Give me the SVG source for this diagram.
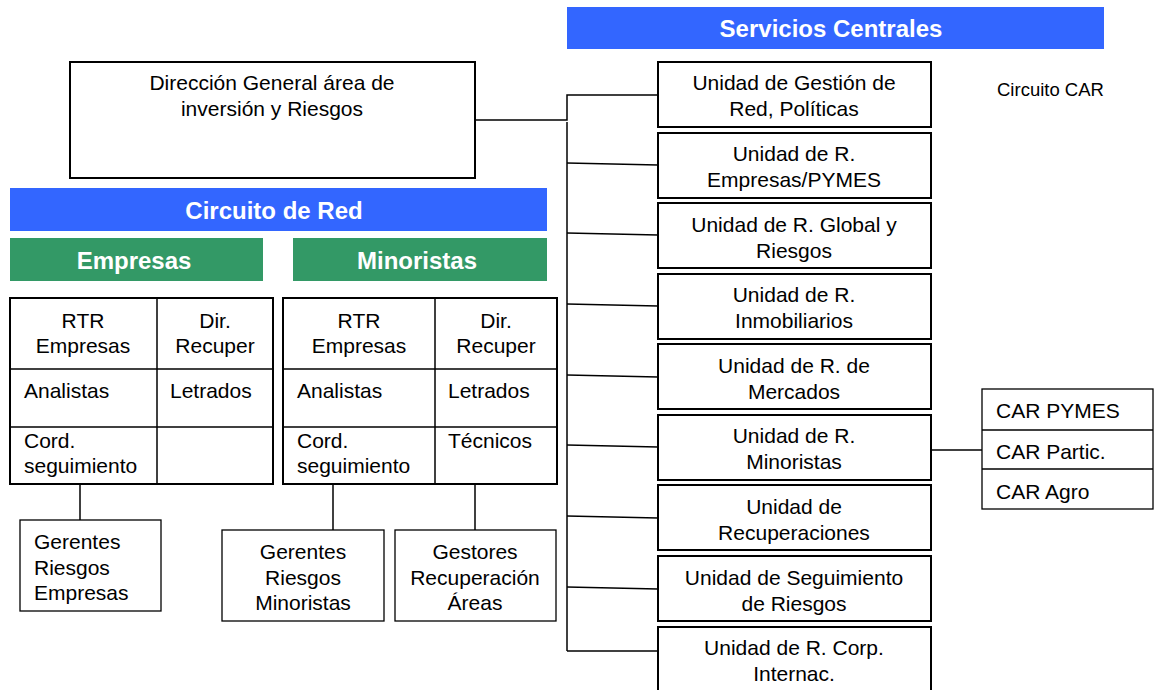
<svg xmlns="http://www.w3.org/2000/svg" width="1155" height="690" viewBox="0 0 1155 690">
<style>
text{font-family:"Liberation Sans",Arial,sans-serif;font-size:21px;fill:#000}
.c{text-anchor:middle}
.bar{font-weight:bold;font-size:24px;fill:#fff;text-anchor:middle}
.box{fill:#fff;stroke:#000;stroke-width:2}
.thin{fill:#fff;stroke:#000;stroke-width:1.3}
.ln{fill:none;stroke:#000;stroke-width:1.5}
.blue{fill:#3366FF}
.green{fill:#339966}
</style>
<rect width="1155" height="690" fill="#fff"/>
<g id="connectors">
<polyline class="ln" points="475,120 567,120 567,95 658,95"/>
<line class="ln" x1="567" y1="122" x2="567" y2="651"/>
<line class="ln" x1="567" y1="163" x2="658" y2="165"/>
<line class="ln" x1="567" y1="233" x2="658" y2="235"/>
<line class="ln" x1="567" y1="304" x2="658" y2="306"/>
<line class="ln" x1="567" y1="375" x2="658" y2="377"/>
<line class="ln" x1="567" y1="445" x2="658" y2="447"/>
<line class="ln" x1="567" y1="516" x2="658" y2="518"/>
<line class="ln" x1="567" y1="587" x2="658" y2="589"/>
<line class="ln" x1="567" y1="651" x2="658" y2="651"/>
<line class="ln" x1="931" y1="450" x2="982" y2="450"/>
<line class="ln" x1="80" y1="484" x2="80" y2="520"/>
<line class="ln" x1="333" y1="484" x2="333" y2="530"/>
<line class="ln" x1="475" y1="484" x2="475" y2="530"/>
</g>
<g id="servicios-centrales"><rect class="blue" x="567" y="7" width="537" height="42"/><text class="bar" x="831" y="37">Servicios Centrales</text></g>
<g id="circuito-car"><text x="997" y="96" style="font-size:18.5px">Circuito CAR</text></g>
<g id="direccion"><rect class="box" x="70" y="62" width="405" height="116"/><text class="c" x="272" y="90">Dirección General área de</text><text class="c" x="272" y="116">inversión y Riesgos</text></g>
<g id="circuito-red"><rect class="blue" x="10" y="188" width="537" height="43"/><text class="bar" x="274" y="219">Circuito de Red</text></g>
<g id="empresas"><rect class="green" x="10" y="238" width="253" height="43"/><text class="bar" x="134" y="269">Empresas</text></g>
<g id="minoristas"><rect class="green" x="293" y="238" width="254" height="43"/><text class="bar" x="417" y="269">Minoristas</text></g>
<g id="tabla-empresas">
<rect class="box" x="10" y="298" width="263" height="186"/>
<line class="ln" x1="157" y1="298" x2="157" y2="484"/>
<line class="ln" x1="10" y1="369" x2="273" y2="369"/>
<line class="ln" x1="10" y1="427" x2="273" y2="427"/>
<text class="c" x="83" y="328">RTR</text><text class="c" x="83" y="353">Empresas</text>
<text class="c" x="215" y="328">Dir.</text><text class="c" x="215" y="353">Recuper</text>
<text x="24" y="398">Analistas</text><text x="170" y="398">Letrados</text>
<text x="24" y="448">Cord.</text><text x="24" y="473">seguimiento</text>
</g>
<g id="tabla-minoristas">
<rect class="box" x="283" y="298" width="274" height="186"/>
<line class="ln" x1="435" y1="298" x2="435" y2="484"/>
<line class="ln" x1="283" y1="369" x2="557" y2="369"/>
<line class="ln" x1="283" y1="427" x2="557" y2="427"/>
<text class="c" x="359" y="328">RTR</text><text class="c" x="359" y="353">Empresas</text>
<text class="c" x="496" y="328">Dir.</text><text class="c" x="496" y="353">Recuper</text>
<text x="297" y="398">Analistas</text><text x="448" y="398">Letrados</text>
<text x="297" y="448">Cord.</text><text x="297" y="473">seguimiento</text>
<text x="448" y="448">Técnicos</text>
</g>
<g id="gerentes-empresas"><rect class="thin" x="20" y="520" width="141" height="91"/><text x="34" y="549">Gerentes</text><text x="34" y="575">Riesgos</text><text x="34" y="600">Empresas</text></g>
<g id="gerentes-minoristas"><rect class="thin" x="222" y="530" width="162" height="91"/><text class="c" x="303" y="559">Gerentes</text><text class="c" x="303" y="585">Riesgos</text><text class="c" x="303" y="610">Minoristas</text></g>
<g id="gestores"><rect class="thin" x="395" y="530" width="161" height="91"/><text class="c" x="475" y="559">Gestores</text><text class="c" x="475" y="585">Recuperación</text><text class="c" x="475" y="610">Áreas</text></g>
<g id="u1"><rect class="box" x="658" y="62" width="273" height="65"/><text class="c" x="794" y="90">Unidad de Gestión de</text><text class="c" x="794" y="116">Red, Políticas</text></g>
<g id="u2"><rect class="box" x="658" y="133" width="273" height="65"/><text class="c" x="794" y="161">Unidad de R.</text><text class="c" x="794" y="187">Empresas/PYMES</text></g>
<g id="u3"><rect class="box" x="658" y="203" width="273" height="65"/><text class="c" x="794" y="232">Unidad de R. Global y</text><text class="c" x="794" y="258">Riesgos</text></g>
<g id="u4"><rect class="box" x="658" y="274" width="273" height="65"/><text class="c" x="794" y="302">Unidad de R.</text><text class="c" x="794" y="328">Inmobiliarios</text></g>
<g id="u5"><rect class="box" x="658" y="344" width="273" height="65"/><text class="c" x="794" y="373">Unidad de R. de</text><text class="c" x="794" y="399">Mercados</text></g>
<g id="u6"><rect class="box" x="658" y="415" width="273" height="65"/><text class="c" x="794" y="443">Unidad de R.</text><text class="c" x="794" y="469">Minoristas</text></g>
<g id="u7"><rect class="box" x="658" y="485" width="273" height="65"/><text class="c" x="794" y="514">Unidad de</text><text class="c" x="794" y="540">Recuperaciones</text></g>
<g id="u8"><rect class="box" x="658" y="556" width="273" height="65"/><text class="c" x="794" y="585">Unidad de Seguimiento</text><text class="c" x="794" y="611">de Riesgos</text></g>
<g id="u9"><rect class="box" x="658" y="627" width="273" height="66"/><text class="c" x="794" y="655">Unidad de R. Corp.</text><text class="c" x="794" y="681">Internac.</text></g>
<g id="car">
<rect class="thin" x="982" y="389" width="171" height="120"/>
<line class="ln" x1="982" y1="430" x2="1153" y2="430"/>
<line class="thin" x1="982" y1="469" x2="1153" y2="469"/>
<text x="996" y="418">CAR PYMES</text><text x="996" y="459">CAR Partic.</text><text x="996" y="499">CAR Agro</text>
</g>
</svg>
